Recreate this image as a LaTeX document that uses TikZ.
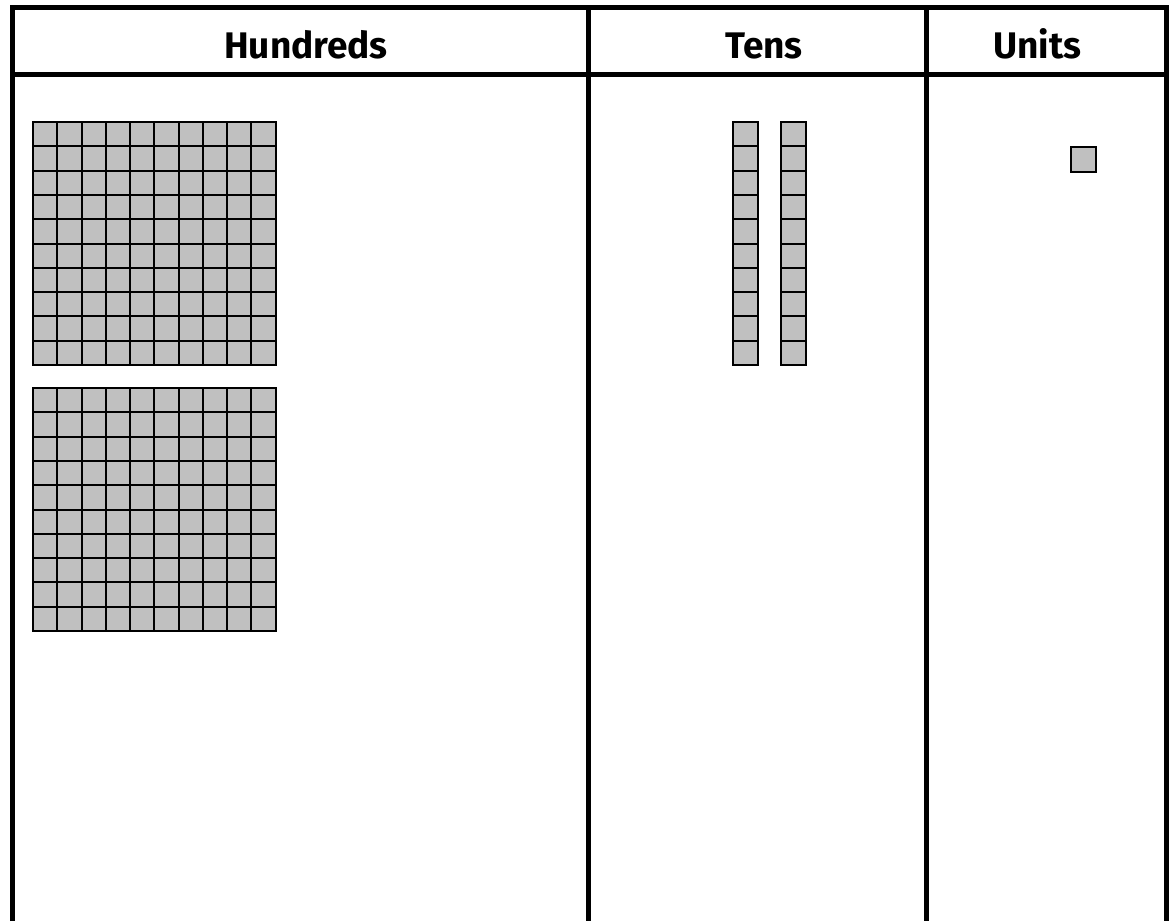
\documentclass[tikz,border=0pt]{standalone}
\usepackage{fontspec}
\setmainfont{Fira Sans}
\definecolor{blockgray}{HTML}{C0C0C0}
\begin{document}
\begin{tikzpicture}[x=1pt,y=-1pt,
  rule/.style={line width=5pt,line join=miter},
  cell/.style={fill=blockgray,draw=black,line width=2pt},
  head/.style={font=\bfseries\fontsize{37}{44}\selectfont,anchor=base,inner sep=0pt}]
\useasboundingbox (0,0) rectangle (1169,921);
\fill[white] (0,0) rectangle (1169,921);
% table rules
\draw[rule] (12,921) -- (12,7.5) -- (1166.5,7.5) -- (1166.5,921);
\draw[rule] (12,74.5) -- (1166.5,74.5);
\draw[rule] (588,7.5) -- (588,921);
\draw[rule] (926.5,7.5) -- (926.5,921);
% headings
\node[head] (hundreds) at (306,58.5) {Hundreds};
\node[head] (tens) at (764,58.5) {Tens};
\node[head] (units) at (1037.5,58.5) {Units};
% hundreds flats
\foreach \top in {122,388}{
  \foreach \i in {0,...,9}{
    \foreach \j in {0,...,9}{
      \draw[cell] ({33+24.25*\i},{\top+24.3*\j}) rectangle +(24.25,24.3);
    }
  }
}
% tens rods
\foreach \left in {732.5,781}{
  \foreach \j in {0,...,9}{
    \draw[cell] (\left,{122+24.3*\j}) rectangle +(25,24.3);
  }
}
% unit
\draw[cell] (1071,147) rectangle (1096,172);
\end{tikzpicture}
\end{document}
